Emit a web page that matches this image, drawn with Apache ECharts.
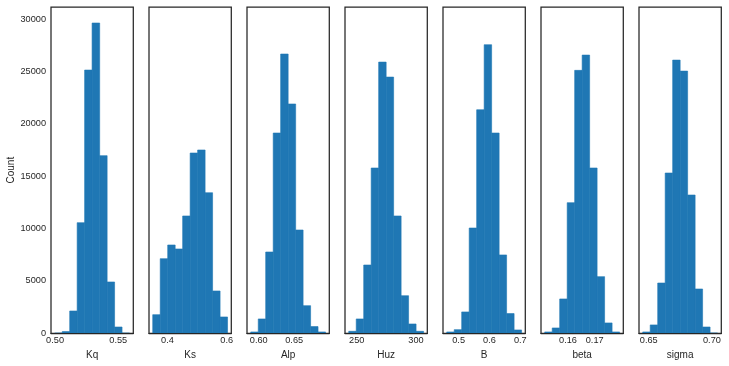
<!DOCTYPE html>
<html>
<head>
<meta charset="utf-8">
<script src="https://cdn.jsdelivr.net/npm/echarts@6/dist/echarts.min.js"></script>
<style>
html,body{margin:0;padding:0;background:#fff;}
#chart{width:729px;height:366px;}
</style>
</head>
<body>
<div id="chart"></div>
<script>
// Panel names
var names = ['Kq', 'Ks', 'Alp', 'Huz', 'B', 'beta', 'sigma'];

// Bin edges per panel
var kqEdges = [0.4998, 0.5057, 0.5116, 0.5175, 0.5234, 0.5293, 0.5353, 0.5412, 0.5471, 0.5530, 0.5589];
var ksEdges = [0.3502, 0.3755, 0.4008, 0.4260, 0.4513, 0.4766, 0.5019, 0.5271, 0.5524, 0.5777, 0.6029];
var alpEdges = [0.5887, 0.5993, 0.6098, 0.6204, 0.6309, 0.6415, 0.6521, 0.6626, 0.6732, 0.6837, 0.6943];
var huzEdges = [243.24, 249.56, 255.88, 262.19, 268.51, 274.83, 281.15, 287.47, 293.78, 300.10, 306.42];
var bEdges = [0.4615, 0.4858, 0.5100, 0.5343, 0.5585, 0.5828, 0.6070, 0.6313, 0.6555, 0.6798, 0.7040];
var betaEdges = [0.15129, 0.15409, 0.15689, 0.15970, 0.16250, 0.16530, 0.16810, 0.17090, 0.17371, 0.17651, 0.17931];
var sigmaEdges = [0.64522, 0.65114, 0.65707, 0.66299, 0.66892, 0.67484, 0.68076, 0.68669, 0.69261, 0.69854, 0.70446];

// Counts per bin
var kqCounts = [20, 160, 2130, 10560, 25130, 29620, 16960, 4900, 600, 20];
var ksCounts = [1780, 7125, 8430, 8050, 11200, 17210, 17500, 13420, 4040, 1560];
var alpCounts = [130, 1370, 7760, 19120, 26660, 21890, 9860, 2640, 640, 130];
var huzCounts = [190, 1370, 6520, 15780, 25890, 24460, 11200, 3590, 890, 190];
var bCounts = [130, 350, 2040, 10050, 21340, 27550, 19120, 7480, 1880, 320];
var betaCounts = [130, 510, 3280, 12470, 25100, 26560, 15780, 5410, 990, 130];
var sigmaCounts = [130, 800, 4800, 15300, 26080, 25030, 13200, 4230, 600, 30];

// X axis ranges
var xMins = [0.4968, 0.3376, 0.5834, 240.08, 0.4494, 0.14989, 0.64226];
var xMaxs = [0.5619, 0.6156, 0.6996, 309.58, 0.7161, 0.18071, 0.70742];

// X tick values and labels
var kqTicks = [0.50, 0.55], kqTickLabels = ['0.50', '0.55'];
var ksTicks = [0.4, 0.6], ksTickLabels = ['0.4', '0.6'];
var alpTicks = [0.60, 0.65], alpTickLabels = ['0.60', '0.65'];
var huzTicks = [250, 300], huzTickLabels = ['250', '300'];
var bTicks = [0.5, 0.6, 0.7], bTickLabels = ['0.5', '0.6', '0.7'];
var betaTicks = [0.16, 0.17], betaTickLabels = ['0.16', '0.17'];
var sigmaTicks = [0.65, 0.70], sigmaTickLabels = ['0.65', '0.70'];

// Y ticks
var yTicks = [0, 5000, 10000, 15000, 20000, 25000, 30000];
var yTickLabels = ['0', '5000', '10000', '15000', '20000', '25000', '30000'];
var yMax = 31150;

var allEdges = [kqEdges, ksEdges, alpEdges, huzEdges, bEdges, betaEdges, sigmaEdges];
var allCounts = [kqCounts, ksCounts, alpCounts, huzCounts, bCounts, betaCounts, sigmaCounts];
var allTicks = [kqTicks, ksTicks, alpTicks, huzTicks, bTicks, betaTicks, sigmaTicks];
var allTickLabels = [kqTickLabels, ksTickLabels, alpTickLabels, huzTickLabels, bTickLabels, betaTickLabels, sigmaTickLabels];

var textColor = '#262626';
var barColor = '#1f77b4';
var fontFam = '"Liberation Sans", Arial, sans-serif';

function lookup(vals, labels, v) {
  for (var k = 0; k < vals.length; k++) {
    if (Math.abs(vals[k] - v) < 1e-9 * Math.max(1, Math.abs(v))) return labels[k];
  }
  return '';
}

var grids = [], xAxes = [], yAxes = [], series = [];
for (var i = 0; i < 7; i++) {
  grids.push({left: 51 + 98 * i, top: 7, width: 82.3, height: 326.3,
    show: true, borderColor: textColor, borderWidth: 1.25, backgroundColor: 'transparent'});
  (function (i) {
    xAxes.push({
      type: 'value', gridIndex: i, min: xMins[i], max: xMaxs[i],
      name: names[i], nameLocation: 'middle', nameGap: 14,
      nameTextStyle: {color: textColor, fontSize: 10, fontFamily: fontFam},
      axisLine: {show: true, onZero: false, lineStyle: {color: textColor, width: 1.25}},
      axisTick: {show: false},
      splitLine: {show: false},
      z: 10,
      axisLabel: {
        customValues: allTicks[i], margin: 3, color: textColor, fontSize: 9.2, fontFamily: fontFam,
        formatter: function (v) { return lookup(allTicks[i], allTickLabels[i], v); }
      }
    });
  })(i);
  yAxes.push({
    type: 'value', gridIndex: i, min: 0, max: yMax,
    name: i === 0 ? 'Count' : '', nameLocation: 'middle', nameGap: 33,
    nameTextStyle: {color: textColor, fontSize: 10, fontFamily: fontFam},
    axisLine: {show: false}, axisTick: {show: false}, splitLine: {show: false},
    axisLabel: {show: i === 0, customValues: yTicks, margin: 5, color: textColor, fontSize: 9.2, fontFamily: fontFam,
      formatter: function (v) { return lookup(yTicks, yTickLabels, v); }}
  });
  var data = [];
  for (var j = 0; j < allCounts[i].length; j++) {
    data.push([allEdges[i][j], allEdges[i][j + 1], allCounts[i][j]]);
  }
  series.push({
    type: 'custom', xAxisIndex: i, yAxisIndex: i, clip: true, z: 2,
    encode: {x: [0, 1], y: 2},
    data: data,
    renderItem: function (params, api) {
      var p0 = api.coord([api.value(0), api.value(2)]);
      var p1 = api.coord([api.value(1), 0]);
      return {type: 'rect', shape: {x: p0[0], y: p0[1], width: p1[0] - p0[0], height: p1[1] - p0[1]},
        style: {fill: barColor, stroke: barColor, lineWidth: 0.6}};
    }
  });
}

var chart = echarts.init(document.getElementById('chart'), null, {renderer: 'canvas'});
chart.setOption({
  animation: false,
  backgroundColor: '#ffffff',
  grid: grids, xAxis: xAxes, yAxis: yAxes, series: series
});
</script>
</body>
</html>
